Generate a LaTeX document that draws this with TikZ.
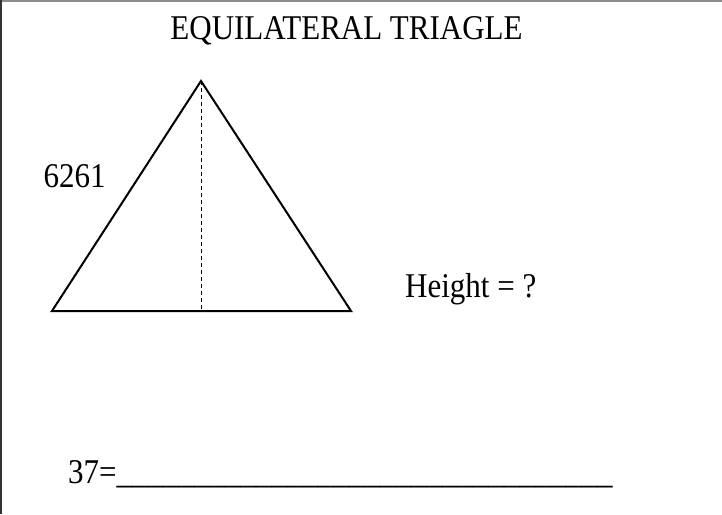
\documentclass[tikz,border=0pt]{standalone}
\usepackage{fontspec}
\setmainfont{Liberation Serif}
\usepackage{tikz}
\usetikzlibrary{positioning}
\definecolor{framegrey}{RGB}{140,140,140}

\begin{document}
\begin{tikzpicture}[x=1pt, y=-1pt,
    lbl/.style={inner sep=0pt, yscale=1.12, font=\fontsize{31}{37}\selectfont},
    side/.style={line width=2pt, line join=miter},
    alt/.style={line width=0.9pt, dash pattern=on 4pt off 3pt}
]
    \useasboundingbox (0,0) rectangle (722,514);
    % frame
    \draw[framegrey, line width=1.5pt] (0,0.75) -- (722,0.75);
    \draw[black!80, line width=2pt] (1,0) -- (1,514);

    \node[lbl, anchor=base] (title) at (346.5,39) {EQUILATERAL TRIAGLE};

    % triangle
    \coordinate (apex) at (201,81);
    \coordinate (baseL) at (52,311);
    \coordinate (baseR) at (351,311);
    \coordinate (foot) at (201,311);
    \draw[side] (baseL) -- (apex) -- (baseR) -- cycle;
    \draw[alt] (apex) -- (foot);

    \node[lbl, anchor=base] (sidelen) at (74.5,187) {6261};
    \node[lbl, anchor=base west] (ask) at (405,297) {Height = ?};
    \node[lbl, anchor=base west] (answer) at (68,483)
        {37=\_\_\_\_\_\_\_\_\_\_\_\_\_\_\_\_\_\_\_\_\_\_\_\_\_\_\_\_\_\_\_\_};
\end{tikzpicture}
\end{document}
